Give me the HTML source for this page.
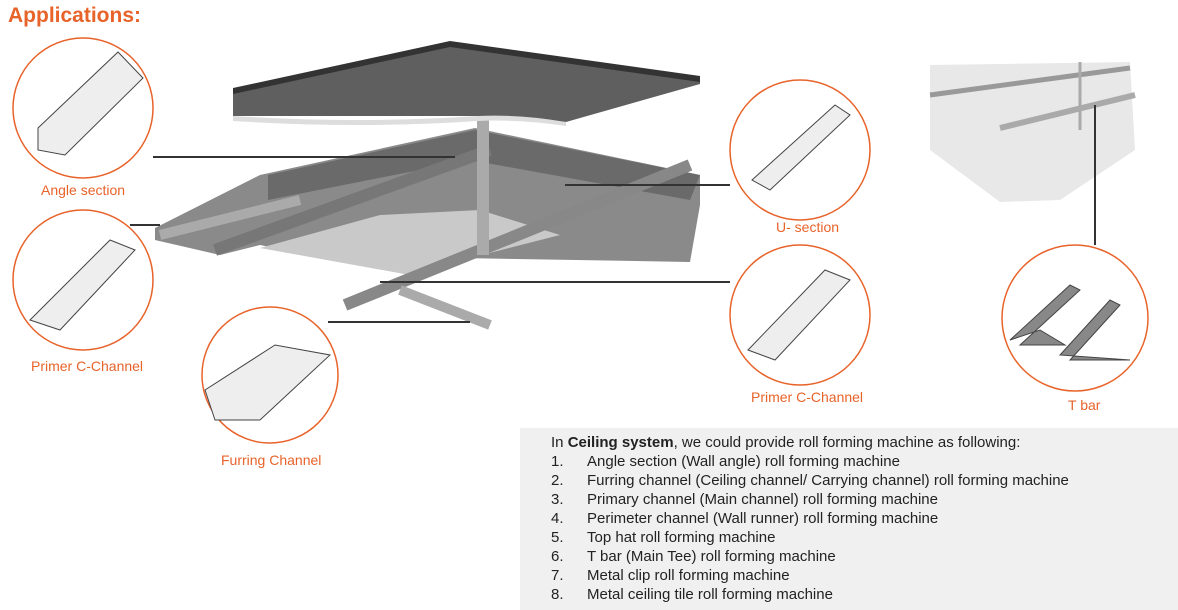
<!DOCTYPE html>
<html><head><meta charset="utf-8"><style>
body{margin:0;background:#fff;width:1178px;height:610px;overflow:hidden;font-family:"Liberation Sans",sans-serif}
.t{position:absolute;color:#e8632a;font-size:14px}
#box{position:absolute;left:520px;top:428px;width:658px;height:182px;background:#f0f0f0;font-size:15px;color:#222}
#box div{position:absolute;left:31px;white-space:nowrap}
#box span.n{position:absolute;left:0}
</style></head><body>
<svg width="1178" height="610" style="position:absolute;left:0;top:0">
<polygon points="930,65 1130,62 1135,150 1060,200 1000,202 930,150" fill="#e8e8e8"/>
<line x1="930" y1="95" x2="1130" y2="68" stroke="#999" stroke-width="5"/>
<line x1="1000" y1="128" x2="1135" y2="95" stroke="#aaa" stroke-width="6"/>
<line x1="1080" y1="62" x2="1080" y2="130" stroke="#aaa" stroke-width="3"/>
<polygon points="155,228 260,175 475,128 700,175 700,205 690,262 460,258 410,275 260,245 220,255 155,240" fill="#8a8a8a"/>
<polygon points="260,248 380,215 480,210 560,235 470,258 410,275" fill="#c9c9c9"/>
<polygon points="268,175 475,130 700,175 690,200 470,160 268,200" fill="#6a6a6a"/>
<line x1="160" y1="235" x2="300" y2="200" stroke="#aaa" stroke-width="10"/>
<line x1="215" y1="250" x2="490" y2="150" stroke="#777" stroke-width="12"/>
<line x1="345" y1="305" x2="690" y2="165" stroke="#888" stroke-width="12"/>
<line x1="400" y1="290" x2="490" y2="325" stroke="#aaa" stroke-width="10"/>
<line x1="483" y1="115" x2="483" y2="255" stroke="#aaa" stroke-width="12"/>
<polygon points="233,90 450,43 700,78 700,84 566,122 478,116 233,116" fill="#5f5f5f"/>
<polygon points="233,88 450,41 700,76 700,82 450,47 233,94" fill="#333"/>
<path d="M233,116 Q360,124 478,116 Q520,114 566,122 L566,126 Q520,119 478,121 Q360,129 233,121Z" fill="#ddd"/>
<g stroke="#333" stroke-width="2">
<line x1="153" y1="157" x2="455" y2="157"/>
<line x1="130" y1="225" x2="160" y2="225"/>
<line x1="328" y1="322" x2="470" y2="322"/>
<line x1="565" y1="185" x2="730" y2="185"/>
<line x1="380" y1="282" x2="730" y2="282"/>
<line x1="1095" y1="105" x2="1095" y2="245"/>
</g>
<g fill="#fff" stroke="#e8632a" stroke-width="1.5">
<circle cx="83" cy="108" r="70"/>
<circle cx="83" cy="280" r="70"/>
<circle cx="270" cy="375" r="68"/>
<circle cx="800" cy="150" r="70"/>
<circle cx="800" cy="315" r="70"/>
<circle cx="1075" cy="318" r="73"/>
</g>
<g fill="#eee" stroke="#444" stroke-width="1">
<polygon points="38,128 118,52 143,78 65,155 38,150"/>
<polygon points="30,320 110,240 135,250 60,330"/>
<polygon points="205,390 275,345 330,355 260,420 215,420"/>
<polygon points="752,180 835,105 850,115 770,190"/>
<polygon points="748,350 825,270 850,280 775,360"/>
</g>
<g fill="#888" stroke="#444">
<polygon points="1010,340 1070,285 1080,290 1020,345 1065,345 1040,330"/>
<polygon points="1060,355 1110,300 1120,305 1070,360 1130,360"/>
</g>
</svg>
<div style="position:absolute;left:8px;top:4px;color:#e8632a;font-size:21px;font-weight:bold">Applications:</div>
<div class="t" style="left:41px;top:182px">Angle section</div>
<div class="t" style="left:31px;top:358px">Primer C-Channel</div>
<div class="t" style="left:221px;top:452px">Furring Channel</div>
<div class="t" style="left:776px;top:219px">U- section</div>
<div class="t" style="left:751px;top:389px">Primer C-Channel</div>
<div class="t" style="left:1068px;top:397px">T bar</div>
<div id="box">
<div style="top:6px;left:31px">In <b>Ceiling system</b>, we could provide roll forming machine as following:</div>
<div style="top:25px"><span class="n">1.</span><span style="margin-left:36px">Angle section (Wall angle) roll forming machine</span></div>
<div style="top:44px"><span class="n">2.</span><span style="margin-left:36px">Furring channel (Ceiling channel/ Carrying channel) roll forming machine</span></div>
<div style="top:63px"><span class="n">3.</span><span style="margin-left:36px">Primary channel (Main channel) roll forming machine</span></div>
<div style="top:82px"><span class="n">4.</span><span style="margin-left:36px">Perimeter channel (Wall runner) roll forming machine</span></div>
<div style="top:101px"><span class="n">5.</span><span style="margin-left:36px">Top hat roll forming machine</span></div>
<div style="top:120px"><span class="n">6.</span><span style="margin-left:36px">T bar (Main Tee) roll forming machine</span></div>
<div style="top:139px"><span class="n">7.</span><span style="margin-left:36px">Metal clip roll forming machine</span></div>
<div style="top:158px"><span class="n">8.</span><span style="margin-left:36px">Metal ceiling tile roll forming machine</span></div>
</div>
</body></html>
